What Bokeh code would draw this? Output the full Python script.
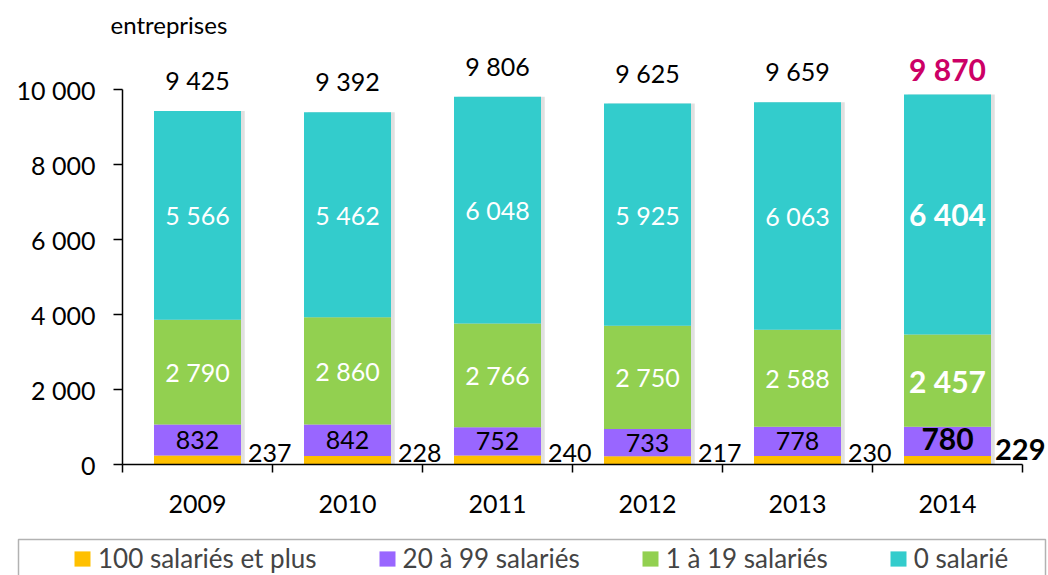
from bokeh.plotting import figure
from bokeh.models import (ColumnDataSource, LabelSet, Label, Legend, LegendItem, FixedTicker,
                          Range1d, BoxAnnotation)
from bokeh.core.properties import value
from bokeh.embed import file_html
from bokeh.resources import INLINE

years = ["2009", "2010", "2011", "2012", "2013", "2014"]
s100 = [237, 228, 240, 217, 230, 229]
s20 = [832, 842, 752, 733, 778, 780]
s1 = [2790, 2860, 2766, 2750, 2588, 2457]
s0 = [5566, 5462, 6048, 5925, 6063, 6404]
totals = [9425, 9392, 9806, 9625, 9659, 9870]
series_names = ["100 salariés et plus", "20 à 99 salariés", "1 à 19 salariés", "0 salarié"]
y_ticks = [0, 2000, 4000, 6000, 8000, 10000]

colors = ["#FFC000", "#9966FF", "#92D050", "#33CCCC"]
FONT = "Lato"
BAR_W = 0.58
W, H = 1048, 575
# layout of the plotting area in canvas pixels
AX_X0, AX_Y0, AX_Y1 = 122, 464, 89  # x of y-axis, y of 0 and of 10 000
PX_PER_CAT = 150.0
Y_MAX = 10000
ppu = (AX_Y0 - AX_Y1) / Y_MAX  # px per value unit


def fmt(v):
    return f"{v:,}".replace(",", " ")


def px_x(px):
    return (px - AX_X0) / PX_PER_CAT


def px_y(py):
    return (AX_Y0 - py) / ppu


n = len(years)
xs = [i + 0.5 for i in range(n)]

src = ColumnDataSource(dict(x=xs, s100=s100, s20=s20, s1=s1, s0=s0))

p = figure(width=W, height=H, output_backend="svg", toolbar_location=None,
           x_range=Range1d(px_x(0), px_x(W)), y_range=Range1d(px_y(H), px_y(0)),
           min_border_left=0, min_border_right=0, min_border_top=0, min_border_bottom=0)
p.outline_line_color = None
p.grid.visible = False
p.background_fill_color = "white"
p.border_fill_color = "white"

# soft shadow behind bars
p.vbar(x=[x + 0.025 for x in xs], top=totals, bottom=0, width=BAR_W,
       fill_color="#000000", fill_alpha=0.12, line_color=None)

rends = p.vbar_stack(["s100", "s20", "s1", "s0"], x="x", width=BAR_W, color=colors,
                     line_color=None, source=src)

# axes
ya = p.yaxis[0]
ya.fixed_location = 0
ya.bounds = (0, Y_MAX)
ya.ticker = FixedTicker(ticks=y_ticks)
ya.major_label_overrides = {t: fmt(t) for t in y_ticks}
ya.minor_tick_line_color = None
ya.major_tick_in = 0
ya.major_tick_out = 9
ya.axis_line_width = 1.5
ya.major_tick_line_width = 1.5
ya.major_label_standoff = 18
ya.major_label_text_font = FONT
ya.major_label_text_font_size = "25px"
ya.major_label_text_color = "black"

xa = p.xaxis[0]
xa.fixed_location = 0
xa.bounds = (0, n)
xa.ticker = FixedTicker(ticks=xs, minor_ticks=list(range(n + 1)))
xa.major_label_overrides = {x: y for x, y in zip(xs, years)}
xa.major_tick_in = 0
xa.major_tick_out = 0
xa.minor_tick_in = 0
xa.minor_tick_out = 8
xa.minor_tick_line_width = 1.5
xa.minor_tick_line_color = "black"
xa.axis_line_width = 1.5
xa.major_label_standoff = 22
xa.major_label_text_font = FONT
xa.major_label_text_font_size = "25px"
xa.major_label_text_color = "black"


def add_labels(xv, yv, texts, color="black", size="25px", style="normal", align="center",
               baseline="middle", xo=0, yo=0):
    s = ColumnDataSource(dict(x=xv, y=yv, t=texts))
    p.add_layout(LabelSet(x="x", y="y", text="t", source=s, text_color=color,
                          text_font=value(FONT), text_font_size=size, text_font_style=style,
                          text_align=align, text_baseline=baseline, x_offset=xo, y_offset=yo))


b20 = s100
b1 = [a + b for a, b in zip(s100, s20)]
b0 = [a + b for a, b in zip(b1, s1)]
mid20 = [b + v / 2 for b, v in zip(b20, s20)]
mid1 = [b + v / 2 for b, v in zip(b1, s1)]
mid0 = [b + v / 2 for b, v in zip(b0, s0)]
right = [x + BAR_W / 2 for x in xs]

k = n - 1
# regular years
add_labels(xs[:k], mid0[:k], [fmt(v) for v in s0[:k]], color="white")
add_labels(xs[:k], mid1[:k], [fmt(v) for v in s1[:k]], color="white")
add_labels(xs[:k], mid20[:k], [fmt(v) for v in s20[:k]], color="black")
add_labels(right[:k], s100[:k], [fmt(v) for v in s100[:k]], align="left", xo=7, yo=3)
add_labels(xs[:k], totals[:k], [fmt(v) for v in totals[:k]], yo=31)
# last year in bold
add_labels(xs[k:], mid0[k:], [fmt(v) for v in s0[k:]], color="white", size="30px", style="bold")
add_labels(xs[k:], mid1[k:], [fmt(v) for v in s1[k:]], color="white", size="30px", style="bold")
add_labels(xs[k:], mid20[k:], [fmt(v) for v in s20[k:]], size="30px", style="bold", yo=2)
add_labels(right[k:], s100[k:], [fmt(v) for v in s100[k:]], size="29px", style="bold",
           align="left", xo=4, yo=6)
add_labels(xs[k:], totals[k:], [fmt(v) for v in totals[k:]], color="#CC0066", size="30px",
           style="bold", yo=25)

# unit caption above the y axis
p.add_layout(Label(x=0, y=Y_MAX, x_offset=-12, y_offset=AX_Y1 - 24, text="entreprises",
                   text_font=FONT, text_font_size="24px", text_align="left",
                   text_baseline="middle", text_color="black"))

# legend frame (runs off the bottom edge like the original)
p.add_layout(BoxAnnotation(left=px_x(18), right=px_x(1045), top=px_y(539), bottom=px_y(H + 10),
                           fill_alpha=0, line_color="black", line_width=1.5))

legend = Legend(items=[LegendItem(label=nm, renderers=[r]) for nm, r in zip(series_names, rends)],
                location=(72, 1), orientation="horizontal",
                border_line_color=None, background_fill_alpha=0,
                label_text_font=FONT, label_text_font_size="26px",
                glyph_width=20, glyph_height=19, label_standoff=6,
                spacing=60, padding=0, margin=0)
p.add_layout(legend, "center")

open("out.html", "w").write(file_html(p, INLINE))
